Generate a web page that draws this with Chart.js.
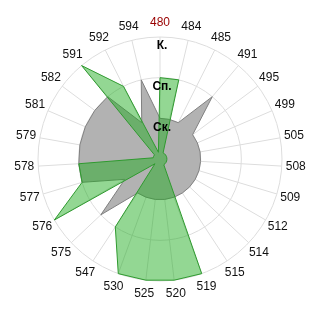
<!DOCTYPE html>
<html>
<head>
<meta charset="utf-8">
<script src="https://cdn.jsdelivr.net/npm/chart.js@4"></script>
<style>
  html, body { margin: 0; padding: 0; background: #fff; }
  #wrap { width: 320px; height: 320px; }
</style>
</head>
<body>
<div id="wrap"><canvas id="radar" width="320" height="320"></canvas></div>
<script>
// categories around the circle, clockwise from the top
const categories = ["480", "484", "485", "491", "495", "499", "505", "508", "509",
  "512", "514", "515", "519", "520", "525", "530", "547", "575", "576", "577",
  "578", "579", "581", "582", "591", "592", "594"];

// levels: 1 = Ск., 2 = Сп., 3 = К.
const grayValues = [1, 1, 1, 2, 1, 1, 1, 1, 1, 1, 1, 1, 1, 1, 1, 1, 1, 2, 1, 2,
  2, 2, 2, 2, 2, 1, 2];
const greenValues = [2, 2, 0.17, 0.17, 0.17, 0.17, 0.17, 0.17, 0.17, 0.17, 0.17, 0.17,
  3, 3, 3, 3, 2, 0.17, 3, 2, 2, 0.17, 0.17, 0.17, 3, 2, 0.17];

const levelLabels = ["Ск.", "Сп.", "К."];

const FONT = '"Liberation Sans", Arial, sans-serif';

// category names centred a fixed distance outside the outer ring,
// level names just under their ring on the top spoke
const labelPlugin = {
  id: "radarLabels",
  afterDraw(chart) {
    const scale = chart.scales.r;
    const ctx = chart.ctx;
    ctx.save();
    ctx.textAlign = "center";
    ctx.textBaseline = "middle";

    ctx.font = "12px " + FONT;
    categories.forEach((label, i) => {
      const pos = scale.getPointPosition(i, scale.drawingArea + 14);
      ctx.fillStyle = i === 0 ? "#990000" : "#111";
      ctx.fillText(label, pos.x, pos.y);
    });

    ctx.font = "bold 12px " + FONT;
    ctx.fillStyle = "#000";
    levelLabels.forEach((label, i) => {
      const pos = scale.getPointPositionForValue(0, i + 1);
      ctx.fillText(label, pos.x + 2, pos.y + 9);
    });
    ctx.restore();
  }
};

const ctx = document.getElementById("radar").getContext("2d");
new Chart(ctx, {
  type: "radar",
  data: {
    labels: categories,
    datasets: [
      {
        label: "green",
        data: greenValues,
        backgroundColor: "rgba(30, 172, 30, 0.48)",
        borderColor: "#2f9a2f",
        borderWidth: 1,
        pointRadius: 0,
        tension: 0,
      },
      {
        label: "gray",
        data: grayValues,
        backgroundColor: "#b2b2b2",
        borderColor: "#808080",
        borderWidth: 1,
        pointRadius: 0,
        tension: 0,
      },
    ],
  },
  options: {
    responsive: false,
    animation: false,
    layout: { padding: { top: 37, bottom: 39, left: 38, right: 38 } },
    plugins: {
      legend: { display: false },
      tooltip: { enabled: false },
    },
    scales: {
      r: {
        z: 1,
        min: 0,
        max: 3,
        ticks: { stepSize: 1, display: false },
        grid: { circular: true, color: "#dddddd", lineWidth: 1 },
        angleLines: { color: "#dddddd", lineWidth: 1 },
        pointLabels: { display: false },
      },
    },
  },
  plugins: [labelPlugin],
});
</script>
</body>
</html>
